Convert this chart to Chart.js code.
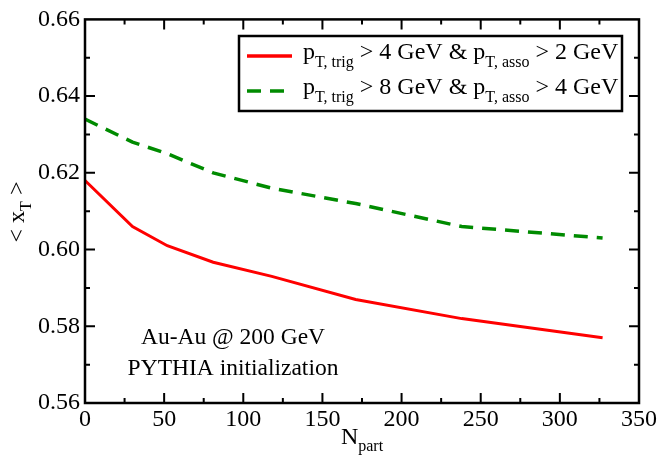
<!DOCTYPE html>
<html>
<head>
<meta charset="utf-8">
<script src="https://cdn.jsdelivr.net/npm/chart.js@4.4.0/dist/chart.umd.min.js"></script>
<style>
  html, body { margin: 0; padding: 0; background: #fff; }
  #wrap { width: 659px; height: 459px; }
</style>
</head>
<body>
<div id="wrap"><canvas id="grafica" width="659" height="459"></canvas></div>
<script>
// datos
const nPart = [0, 30, 52, 81, 118, 171, 238, 327];
const xtBajo = [0.618, 0.606, 0.601, 0.5967, 0.593, 0.587, 0.582, 0.577];   // pT,trig > 4 & pT,asso > 2
const xtAlto = [0.634, 0.628, 0.625, 0.620, 0.616, 0.612, 0.606, 0.603];    // pT,trig > 8 & pT,asso > 4
const xTicks = [0, 50, 100, 150, 200, 250, 300, 350];
const yTicks = [0.56, 0.58, 0.60, 0.62, 0.64, 0.66];

const SERIF = '"Liberation Serif", "DejaVu Serif", serif';
const ROJO = '#ff0000';
const VERDE = '#008b00';

// texto con subíndice: partes [[texto, esSub], ...]
function anchoTexto(ctx, partes, tam, tamSub) {
  let w = 0;
  partes.forEach(([t, sub]) => {
    ctx.font = (sub ? tamSub : tam) + 'px ' + SERIF;
    w += ctx.measureText(t).width;
  });
  return w;
}
function dibujarTexto(ctx, partes, x, y, tam, tamSub, bajada) {
  partes.forEach(([t, sub]) => {
    ctx.font = (sub ? tamSub : tam) + 'px ' + SERIF;
    ctx.fillText(t, x, sub ? y + bajada : y);
    x += ctx.measureText(t).width;
  });
}

// marcas hacia dentro, leyenda y etiquetas
const extras = {
  id: 'extras',
  afterDraw(chart) {
    const { ctx, chartArea: a, scales: { x, y } } = chart;
    ctx.save();
    ctx.strokeStyle = '#000';
    ctx.lineWidth = 2;
    // marcas eje x (mayores cada 50, menores cada 25)
    for (let v = 25; v < 350; v += 25) {
      const px = x.getPixelForValue(v);
      const largo = v % 50 === 0 ? 10 : 5;
      ctx.beginPath();
      ctx.moveTo(px, a.bottom); ctx.lineTo(px, a.bottom - largo);
      ctx.moveTo(px, a.top); ctx.lineTo(px, a.top + largo);
      ctx.stroke();
    }
    // marcas eje y (mayores cada 0.02, menores cada 0.01)
    for (let i = 1; i < 10; i++) {
      const py = y.getPixelForValue(0.56 + i * 0.01);
      const largo = i % 2 === 0 ? 10 : 5;
      ctx.beginPath();
      ctx.moveTo(a.left, py); ctx.lineTo(a.left + largo, py);
      ctx.moveTo(a.right, py); ctx.lineTo(a.right - largo, py);
      ctx.stroke();
    }
    // marco
    ctx.lineWidth = 2.5;
    ctx.strokeRect(a.left, a.top, a.right - a.left, a.bottom - a.top);

    // leyenda
    ctx.strokeRect(239, 36, 383, 75);
    ctx.fillStyle = '#000';
    ctx.textBaseline = 'alphabetic';
    ctx.textAlign = 'left';
    const filas = [
      { color: ROJO, dash: [], txt: '> 4 GeV & ', txt2: '> 2 GeV', y: 56 },
      { color: VERDE, dash: [14, 9], txt: '> 8 GeV & ', txt2: '> 4 GeV', y: 91 }
    ];
    filas.forEach(f => {
      ctx.save();
      ctx.strokeStyle = f.color;
      ctx.lineWidth = 3.5;
      ctx.setLineDash(f.dash);
      ctx.beginPath(); ctx.moveTo(247, f.y); ctx.lineTo(292, f.y); ctx.stroke();
      ctx.restore();
      dibujarTexto(ctx, [['p', false], ['T, trig', true], [' ' + f.txt, false], ['p', false], ['T, asso', true], [' ' + f.txt2, false]],
        303, f.y + 2.5, 24, 16, 8);
    });

    // anotación
    ctx.font = '23.5px ' + SERIF;
    ctx.textAlign = 'center';
    ctx.fillText('Au-Au @ 200 GeV', 233, 344);
    ctx.fillText('PYTHIA initialization', 233, 375);

    // título eje x
    ctx.textAlign = 'left';
    const tx = [['N', false], ['part', true]];
    const wx = anchoTexto(ctx, tx, 24, 16);
    dibujarTexto(ctx, tx, 362 - wx / 2, 444, 24, 16, 7);

    // título eje y (rotado)
    ctx.save();
    ctx.translate(24, 212);
    ctx.rotate(-Math.PI / 2);
    const ty = [['< x', false], ['T', true], [' >', false]];
    const wy = anchoTexto(ctx, ty, 24, 16);
    dibujarTexto(ctx, ty, -wy / 2, 0, 24, 16, 7);
    ctx.restore();
    ctx.restore();
  }
};

new Chart(document.getElementById('grafica'), {
  type: 'line',
  data: {
    datasets: [
      { label: 'bajo', data: nPart.map((n, i) => ({ x: n, y: xtBajo[i] })), borderColor: ROJO, borderWidth: 3, pointRadius: 0, tension: 0, fill: false },
      { label: 'alto', data: nPart.map((n, i) => ({ x: n, y: xtAlto[i] })), borderColor: VERDE, borderWidth: 3.5, borderDash: [14, 9], pointRadius: 0, tension: 0, fill: false }
    ]
  },
  options: {
    responsive: false,
    animation: false,
    events: [],
    layout: { padding: { left: 0, right: 19, top: 14, bottom: 0 } },
    plugins: { legend: { display: false }, tooltip: { enabled: false } },
    scales: {
      x: {
        type: 'linear', min: 0, max: 350,
        afterBuildTicks: s => { s.ticks = xTicks.map(v => ({ value: v })); },
        afterFit: s => { s.height = 56; },
        grid: { display: false, drawTicks: false },
        border: { display: false },
        ticks: { color: '#000', padding: 2, maxRotation: 0, font: { family: SERIF, size: 24 } }
      },
      y: {
        type: 'linear', min: 0.56, max: 0.66,
        afterBuildTicks: s => { s.ticks = yTicks.map(v => ({ value: v })); },
        afterFit: s => { s.width = 85; },
        grid: { display: false, drawTicks: false },
        border: { display: false },
        ticks: { color: '#000', padding: 5, font: { family: SERIF, size: 24 }, callback: v => v.toFixed(2) }
      }
    }
  },
  plugins: [extras]
});
</script>
</body>
</html>
